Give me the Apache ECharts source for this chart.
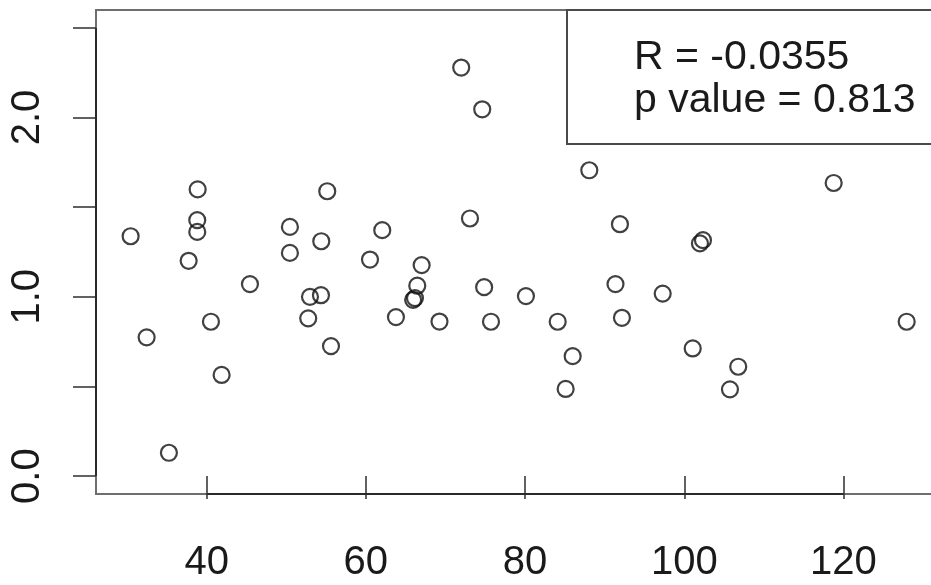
<!DOCTYPE html>
<html>
<head>
<meta charset="utf-8">
<script src="https://cdn.jsdelivr.net/npm/echarts@6/dist/echarts.min.js"></script>
<style>
html,body{margin:0;padding:0;background:#fff;overflow:hidden;}
#chart{width:960px;height:585px;}
</style>
</head>
<body>
<div id="chart"></div>
<script>
// Data
const xValues = [30.45,32.46,35.26,37.74,38.87,38.82,38.82,40.54,41.88,45.44,
  50.46,50.46,52.76,52.98,54.36,54.40,55.15,55.62,60.52,62.06,
  63.78,65.94,66.17,66.46,67.01,69.25,71.98,73.08,74.62,74.86,
  75.72,80.11,84.10,85.10,85.98,88.07,91.36,91.92,92.17,97.29,
  101.06,101.97,102.35,105.74,106.78,118.77,127.94];
const yValues = [1.338,0.774,0.130,1.201,1.599,1.428,1.362,0.861,0.564,1.071,
  1.390,1.245,0.880,1.000,1.009,1.310,1.589,0.725,1.208,1.372,
  0.887,0.983,0.993,1.062,1.177,0.862,2.279,1.437,2.046,1.054,
  0.861,1.004,0.861,0.486,0.669,1.706,1.071,1.405,0.883,1.018,
  0.712,1.298,1.316,0.484,0.610,1.635,0.861];
const xTicks = [40,60,80,100,120];
const yTicks = [0,0.5,1,1.5,2,2.5];
const yLabelTicks = [0,1,2];
const xLimits = [26.1,131.75];
const yLimits = [-0.1,2.6];
const legendLines = ['R = -0.0355','p value = 0.813'];

const points = xValues.map((x,i)=>[x,yValues[i]]);
const FONT = '"Liberation Sans", Arial, sans-serif';
const chart = echarts.init(document.getElementById('chart'),null,{renderer:'canvas'});
chart.setOption({
  animation:false,
  backgroundColor:'#fff',
  grid:{left:96,top:10,width:841,height:484,show:true,borderColor:'#6e6e6e',borderWidth:2,backgroundColor:'transparent'},
  xAxis:{type:'value',min:xLimits[0],max:xLimits[1],
    axisLine:{show:false},splitLine:{show:false},
    axisTick:{show:true,customValues:xTicks,length:23,lineStyle:{color:'#3a3a3a',width:1.6}},
    axisLabel:{show:true,customValues:xTicks,margin:49,fontSize:40,fontFamily:FONT,color:'#1a1a1a'}},
  yAxis:{type:'value',min:yLimits[0],max:yLimits[1],
    axisLine:{show:false},splitLine:{show:false},
    axisTick:{show:true,customValues:yTicks,length:23,lineStyle:{color:'#3a3a3a',width:1.6}},
    axisLabel:{show:true,customValues:yLabelTicks,rotate:90,margin:48,fontSize:40,fontFamily:FONT,color:'#1a1a1a',
      formatter:v=>Number(v).toFixed(1)}},
  graphic:[
    {type:'rect',shape:{x:567,y:10,width:420,height:134},style:{fill:'#fff',stroke:'#4a4a4a',lineWidth:2},z:50},
    {type:'text',x:634,y:58,style:{text:legendLines[0],fontSize:41,fontFamily:FONT,fill:'#1a1a1a',verticalAlign:'middle',align:'left'},z:51},
    {type:'text',x:634,y:101,style:{text:legendLines[1],fontSize:41,fontFamily:FONT,fill:'#1a1a1a',verticalAlign:'middle',align:'left'},z:51}
  ],
  series:[
    {type:'line',data:[[xTicks[0],yLimits[0]],[xTicks[xTicks.length-1],yLimits[0]]],symbol:'none',clip:false,silent:true,
      lineStyle:{color:'#2a2a2a',width:2},z:3},
    {type:'line',data:[[xLimits[0],yTicks[0]],[xLimits[0],yTicks[yTicks.length-1]]],symbol:'none',clip:false,silent:true,
      lineStyle:{color:'#2a2a2a',width:2},z:3},
    {type:'scatter',data:points,symbol:'circle',symbolSize:16,
      itemStyle:{color:'rgba(0,0,0,0)',borderColor:'#111',borderWidth:2.2},z:4}
  ]
});
</script>
</body>
</html>
